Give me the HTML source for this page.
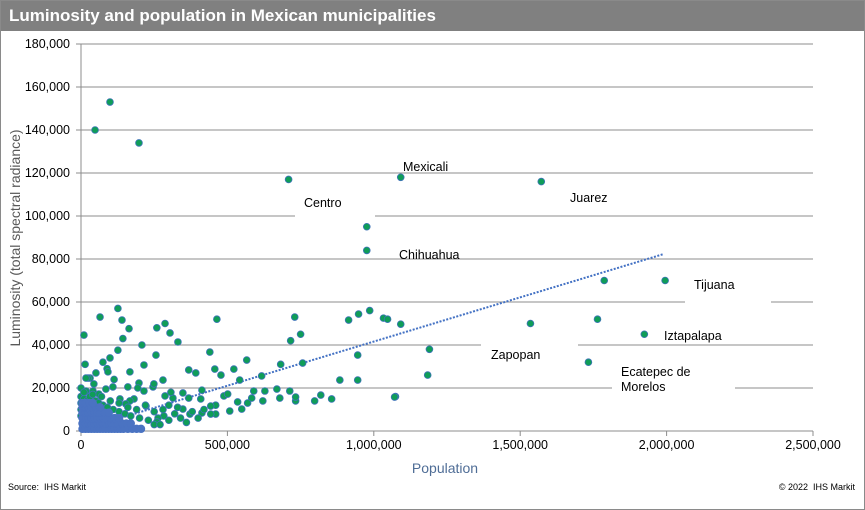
<!DOCTYPE html>
<html><head><meta charset="utf-8"><style>
body{margin:0;background:#fff;}
#wrap{position:relative;width:863px;height:508px;border:1px solid #8a8a8a;overflow:hidden;font-family:"Liberation Sans",Arial,sans-serif;}
#title{position:absolute;left:0;top:0;width:863px;height:30px;background:#808080;color:#fff;font-weight:bold;font-size:17px;line-height:30px;padding-left:8px;box-sizing:border-box;}
svg{position:absolute;left:0;top:0;}
.foot{position:absolute;top:481px;font-size:9px;color:#000;}
</style></head><body>
<div id="wrap">
<div id="title">Luminosity and population in Mexican municipalities</div>
<svg id="chart" width="863" height="508"></svg>
<div class="foot" style="left:7px">Source:&nbsp; IHS Markit</div>
<div class="foot" style="right:9px">© 2022&nbsp; IHS Markit</div>
</div>
<script>
const yTicks=[0,20000,40000,60000,80000,100000,120000,140000,160000,180000];
const yTickLabels=["0","20,000","40,000","60,000","80,000","100,000","120,000","140,000","160,000","180,000"];
const xTicks=[0,500000,1000000,1500000,2000000,2500000];
const xTickLabels=["0","500,000","1,000,000","1,500,000","2,000,000","2,500,000"];
// green series, population in thousands
const popK=[48,99,198,709,1092,1572,976,976,1995,1787,1764,1535,1924,1733,1074,
10,65,126,140,164,143,126,14,75,99,89,92,51,167,208,215,259,287,304,331,256,280,464,440,368,392,457,478,522,542,566,617,682,716,730,750,757,884,914,948,986,1033,1047,1092,945,945,1190,1184,1071,856,819,798,733,733,713,679,669,628,621,590,583,569,549,535,508,488,501,460,460,443,443,413,409,413,372,368,348,348,314,307,287,283,263,259,246,249,222,215,198,194,181,167,160,153,133,113,109,85,61,44,31,24,17,0,17,41,
0,0,0,0,10,20,30,50,60,75,90,110,130,150,170,200,230,250,270,300,320,340,360,380,400,420,10,40,70,100,130,160,190,220,250,280,300,330];
const lumK=[140,153,134,117,118,116,95,84,70,70,52,50,45,32,16,
44.6,53,57,51.6,47.6,43,37.6,31,32,34,29,27.5,27,27.5,40,30.7,48,50,45.6,41.4,35.3,23.7,52,36.7,28.4,27,28.8,26,28.8,23.7,33,25.6,31,42,53,45,31.6,23.7,51.6,54.4,56,52.5,52,49.7,35.3,23.7,38,26,15.8,14.9,16.7,14,14,15.8,18.6,15.3,19.5,18.6,14,18.6,15.3,13,10.2,13.5,9.3,16.3,17.2,12,7.9,11.6,7.9,19,14.9,8.4,7.9,15.3,17.7,10.2,15.3,18,16.3,7,6,4.2,20.5,21.9,11.6,18.6,22.3,20,14.9,14,20.5,12.6,14.9,24,20.5,19.5,17.2,21.9,24.6,24.6,24.6,20,18.6,18.6,
7,10,13,16,15,14,16,14,13,12,11,10,9,8,7,6,5,3,3,5,8,6,4,9,6,10,18,17,16,14,13,11,10,12,9,10,12,11];
// dense small-municipality cluster (blue), thousands
const clusterPopK=[5,15,25,35,45,55,65,75,85,95,105,115,125,135,145,160,175,190,205,
5,15,25,35,45,55,65,75,85,95,105,115,125,140,155,170,
5,15,25,35,45,55,65,75,85,100,115,130,
5,15,25,35,45,55,65,80,95,
5,15,25,35,50,65,
5,15,28,40];
const clusterLumK=[1,1,1,1,1,1,1,1,1,1,1,1,1,1,1,1,1,1,1,
3.5,3.5,3.5,3.5,3.5,3.5,3.5,3.5,3.5,3.5,3.5,3.5,3.5,3.5,3.5,3.5,
6,6,6,6,6,6,6,6,6,6,6,6,
8.5,8.5,8.5,8.5,8.5,8.5,8.5,8.5,8.5,
11,11,11,11,11,11,
13,13,13,13];
const trendPop=[0,1990000];
const trendLum=[500,82300];
const labelNames=["Mexicali","Centro","Juarez","Chihuahua","Tijuana","Iztapalapa","Zapopan","Ecatepec de","Morelos"];

const X0=80,X1=812,Y0=430,Y1=43;
const xS=v=>X0+(v/2500000)*(X1-X0);
const yS=v=>Y0-(v/180000)*(Y0-Y1);
const svg=document.getElementById('chart');
const NS='http://www.w3.org/2000/svg';
function mk(t,a){const e=document.createElementNS(NS,t);for(const k in a)e.setAttribute(k,a[k]);svg.appendChild(e);return e;}

yTicks.forEach((v,i)=>{
  if(i>0){const g=mk('line',{x1:X0,x2:X1,y1:yS(v),y2:yS(v),stroke:'#8c8c8c','stroke-width':1});
  
  }
  const tk=mk('line',{x1:X0-5,x2:X0,y1:yS(v),y2:yS(v),stroke:'#8c8c8c'});
  
  
  const t=mk('text',{x:X0-11,y:yS(v)+4,'text-anchor':'end','font-size':12.5,fill:'#000'});
  t.textContent=yTickLabels[i];
  
  
});
const ax=mk('line',{x1:X0,x2:X0,y1:Y1,y2:Y0,stroke:'#8c8c8c'});


const axx=mk('line',{x1:X0,x2:X1,y1:Y0,y2:Y0,stroke:'#8c8c8c'});


xTicks.forEach((v,i)=>{
  const tk=mk('line',{x1:xS(v),x2:xS(v),y1:Y0,y2:Y0+5,stroke:'#8c8c8c'});
  
  
  const t=mk('text',{x:xS(v),y:Y0+18,'text-anchor':'middle','font-size':12.5,fill:'#000'});
  t.textContent=xTickLabels[i];
  
  
});
const yt=mk('text',{x:0,y:0,transform:'translate(19,237) rotate(-90)','text-anchor':'middle','font-size':14,fill:'#595959'});
yt.textContent='Luminosity (total spectral radiance)';


const xt=mk('text',{x:444,y:472,'text-anchor':'middle','font-size':14,fill:'#4f6d96'});
xt.textContent='Population';



const boxes=[[294,205,80,20],[684,292,86,18],[480,335,97,18],[611,378,123,18]];
boxes.forEach(b=>{const r=mk('rect',{x:b[0],y:b[1],width:b[2],height:b[3],fill:'#fff'});

});

const tl=mk('line',{x1:xS(trendPop[0]),y1:yS(trendLum[0]),x2:xS(trendPop[1]),y2:yS(trendLum[1]),stroke:'#4472c4','stroke-width':2,'stroke-dasharray':'2 1.5'});



popK.forEach((p,i)=>{
  const c=mk('circle',{cx:xS(p*1000),cy:yS(lumK[i]*1000),r:3.4,fill:'#0f9d58',stroke:'#3f74b8','stroke-width':0.8});
  
  
});
clusterPopK.forEach((p,i)=>{
  const c=mk('circle',{cx:xS(p*1000),cy:yS(clusterLumK[i]*1000),r:3.8,fill:'#4a73c2',stroke:'#4a73c2','stroke-width':0.8});
  
  
});

const lp=[[402,170],[303,206],[569,201],[398,258],[693,288],[663,339],[490,358],[620,375],[620,390]];
labelNames.forEach((n,i)=>{
  const t=mk('text',{x:lp[i][0],y:lp[i][1],'font-size':12.5,fill:'#000'});
  t.textContent=n;
  
  
});
</script>
</body></html>
